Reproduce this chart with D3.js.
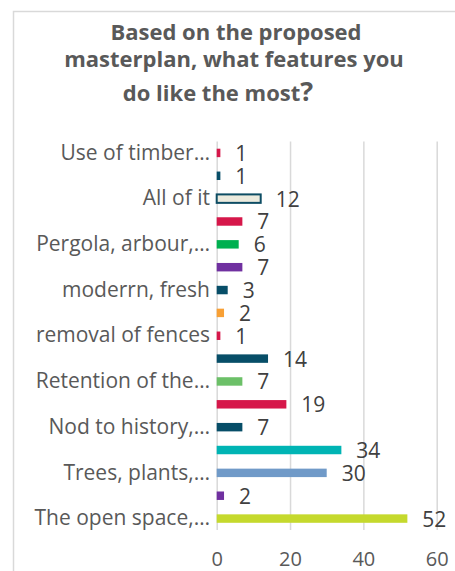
<!DOCTYPE html>
<html>
<head>
<meta charset="utf-8">
<script src="https://cdn.jsdelivr.net/npm/d3@7"></script>
<style>
  body { margin: 0; background: #fff; }
  svg { display: block; font-family: "Open Sans", sans-serif; }
</style>
</head>
<body>
<svg id="chart" width="455" height="571"></svg>
<script>
// survey answers, top to bottom (only every other category gets a label, as in the original)
const categories = [
  "Use of timber…", "", "All of it", "", "Pergola, arbour,…", "",
  "moderrn, fresh", "", "removal of fences", "", "Retention of the…", "",
  "Nod to history,…", "", "Trees, plants,…", "", "The open space,…"
];
const values = [1, 1, 12, 7, 6, 7, 3, 2, 1, 14, 7, 19, 7, 34, 30, 2, 52];
const colors = [
  "#D6174A", "#074E68", "#ECEBDE", "#D6174A", "#00B050", "#7030A0",
  "#074E68", "#F8A035", "#D6174A", "#074E68", "#6CC068", "#D6174A",
  "#074E68", "#00B4B4", "#709AC8", "#7030A0", "#C5D92D"
];
const xTicks = [0, 20, 40, 60];
const titleLines = ["Based on the proposed", "masterplan, what features you", "do like the most"];

const svg = d3.select("#chart");

// outer frame
svg.append("rect")
  .attr("x", 13.5).attr("y", 11.5)
  .attr("width", 470).attr("height", 600)
  .attr("fill", "none").attr("stroke", "#D9D9D9").attr("stroke-width", 1.5);

// title
let title = svg.append("text")
  .attr("text-anchor", "middle")
  .attr("fill", "#595959")
  .style("font-weight", "bold")
  .style("font-size", "22px");
title.append("tspan").attr("x", 236).attr("y", 40).text(titleLines[0]);
title.append("tspan").attr("x", 234).attr("y", 67).text(titleLines[1]);
title.append("tspan").attr("x", 218).attr("y", 101).text(titleLines[2]);
title.append("tspan").style("font-size", "27px").text("?");

let x = d3.scaleLinear().domain([0, 60]).range([216.7, 436.7]);
let y = d3.scaleBand()
  .domain(d3.range(values.length))
  .range([141.5, 530])
  .paddingInner(0.63)
  .paddingOuter(0.315);

// vertical gridlines
svg.append("g")
  .attr("transform", "translate(0,530)")
  .call(d3.axisBottom(x).tickValues(xTicks).tickSize(-(530 - 141.5)).tickFormat(""))
  .call(g => g.select(".domain").remove())
  .call(g => g.selectAll("line").attr("stroke", "#D9D9D9").attr("stroke-width", 1.5));

// tick labels
svg.append("g")
  .attr("transform", "translate(0,566)")
  .call(d3.axisBottom(x).tickValues(xTicks).tickSize(0).tickPadding(0))
  .call(g => g.select(".domain").remove())
  .call(g => g.selectAll("text")
    .attr("dy", 0).attr("fill", "#595959")
    .style("font-family", "'Open Sans', sans-serif").style("font-size", "20px"));

// category labels
svg.append("g")
  .attr("transform", "translate(210,0)")
  .call(d3.axisLeft(y).tickSize(0).tickPadding(0).tickFormat(i => categories[i]))
  .call(g => g.select(".domain").remove())
  .call(g => g.selectAll("text")
    .attr("dy", "0.32em").attr("fill", "#595959")
    .style("font-family", "'Open Sans', sans-serif").style("font-size", "21px"));

// bars
svg.append("g").selectAll("rect")
  .data(values)
  .join("rect")
  .attr("x", x(0))
  .attr("y", (d, i) => y(i))
  .attr("width", d => x(d) - x(0))
  .attr("height", y.bandwidth())
  .attr("fill", (d, i) => colors[i])
  .attr("stroke", (d, i) => i == 2 ? "#0E4D64" : "none")
  .attr("stroke-width", 2);

// value labels
svg.append("g").selectAll("text")
  .data(values)
  .join("text")
  .attr("x", d => x(d) + 15)
  .attr("y", (d, i) => y(i) + y.bandwidth() / 2 + 8)
  .attr("fill", "#404040")
  .style("font-size", "21px")
  .text(d => d);
</script>
</body>
</html>
